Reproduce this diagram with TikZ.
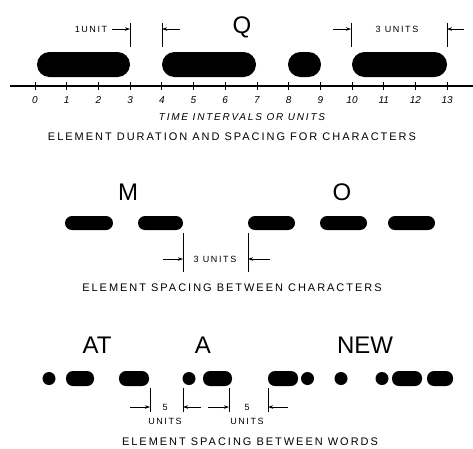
\documentclass[tikz,border=0pt]{standalone}
\usepackage{fontspec}
\setmainfont{Liberation Sans}
\newfontfamily\spacedfont[LetterSpace=18]{Liberation Sans}
\usetikzlibrary{arrows.meta}

\begin{document}
\begin{tikzpicture}[x=1pt,y=-1pt,
    tip/.style={-{Stealth[length=5pt,width=3.5pt]},line width=0.8pt},
    dimline/.style={line width=1pt},
    letter/.style={font=\fontsize{24}{26}\selectfont},
    unitlbl/.style={font=\fontsize{9}{14}\selectfont\spacedfont,align=center},
    heading/.style={font=\fontsize{11}{12}\selectfont\spacedfont}]
  \useasboundingbox (0,0) rectangle (473,448);

  % duration and spacing for characters
  \node[letter] (q) at (242,27) {Q};
  \foreach \a/\b in {37/130,162/256,288/321,352/447}
    \fill[rounded corners=12.5pt] (\a,52) rectangle (\b,77);
  \draw[line width=1.1pt] (10,86) -- (473,86);
  \foreach \n in {0,...,13} {
    \draw[line width=0.8pt] (35+31.7*\n,82) -- (35+31.7*\n,90);
    \node[font=\fontsize{10}{12}\selectfont\itshape] (t\n) at (35+31.7*\n,100) {\n};
  }
  \foreach \x/\nm in {130/qa,162/qb,351/qc,447/qd} {
    \coordinate (\nm) at (\x,29);
    \draw[dimline] (\x,23) -- (\x,47);
  }
  \draw[tip] ([xshift=-18pt]qa) -- (qa);
  \draw[tip] ([xshift=18pt]qb) -- (qb);
  \draw[tip] ([xshift=-18pt]qc) -- (qc);
  \draw[tip] ([xshift=17pt]qd) -- (qd);
  \node[unitlbl] (u1) at (91,29) {1UNIT};
  \node[unitlbl] (u3) at (397,29) {3 UNITS};
  \node[font=\fontsize{10}{12}\selectfont\itshape\spacedfont] (ti) at (242,117) {TIME INTERVALS OR UNITS};
  \node[heading] (h1) at (232,137) {ELEMENT DURATION AND SPACING FOR CHARACTERS};

  % spacing between characters
  \node[letter] (m) at (128,192) {M};
  \node[letter] (o) at (342,192) {O};
  \foreach \a/\b in {65/113,138/183,248/295,320/367,388/435}
    \fill[rounded corners=7pt] (\a,216) rectangle (\b,230);
  \foreach \x/\nm in {183/ma,248/mb} {
    \coordinate (\nm) at (\x,259);
    \draw[dimline] (\x,233) -- (\x,272);
  }
  \draw[tip] ([xshift=-20pt]ma) -- (ma);
  \draw[tip] ([xshift=22pt]mb) -- (mb);
  \node[unitlbl] (u3b) at (215,259) {3 UNITS};
  \node[heading] (h2) at (232,288) {ELEMENT SPACING BETWEEN CHARACTERS};

  % spacing between words
  \node[letter] (at) at (97,345) {AT};
  \node[letter] (a) at (203,345) {A};
  \node[letter] (new) at (365,345) {NEW};
  \foreach \c in {49,189,307.5,341,382}
    \fill (\c,378.5) circle (6.5pt);
  \foreach \a/\b in {66/94,119/149,203/232,268/298,392/422,427/453}
    \fill[rounded corners=7pt] (\a,371) rectangle (\b,386);
  \foreach \x/\nm in {150/wa,183/wb,229/wc,268/wd} {
    \coordinate (\nm) at (\x,407);
    \draw[dimline] (\x,388) -- (\x,412);
  }
  \draw[tip] ([xshift=-20pt]wa) -- (wa);
  \draw[tip] ([xshift=18pt]wb) -- (wb);
  \draw[tip] ([xshift=-21pt]wc) -- (wc);
  \draw[tip] ([xshift=20pt]wd) -- (wd);
  \node[unitlbl] (u5a) at (165,414) {5\\UNITS};
  \node[unitlbl] (u5b) at (247,414) {5\\UNITS};
  \node[heading] (h3) at (250,442) {ELEMENT SPACING BETWEEN WORDS};
\end{tikzpicture}
\end{document}
